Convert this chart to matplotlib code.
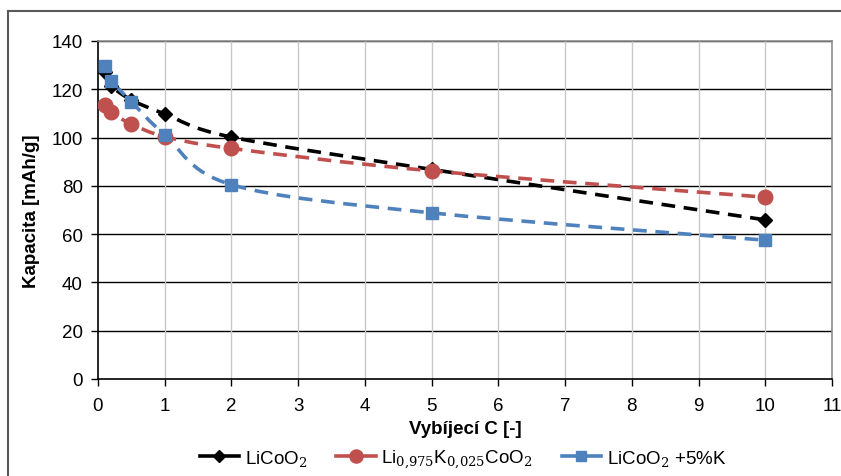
import numpy as np
import matplotlib
matplotlib.use("Agg")
import matplotlib.pyplot as plt
from matplotlib.path import Path
from matplotlib.patches import PathPatch
from matplotlib.lines import Line2D

plt.rcParams["font.family"] = ["Liberation Sans", "DejaVu Sans"]
plt.rcParams["mathtext.fontset"] = "dejavuserif"

# data
rates = [0.1, 0.2, 0.5, 1, 2, 5, 10]
licoo2 = [127, 121.5, 115.6, 109.8, 100.2, 86.8, 65.9]
li_k = [113.6, 110.4, 105.6, 100.4, 95.5, 86.2, 75.3]
licoo2_5k = [129.8, 123.6, 114.9, 101.2, 80.5, 68.8, 57.5]

labels = ["LiCoO$_2$", "Li$_{0{,}975}$K$_{0{,}025}$CoO$_2$", "LiCoO$_2$ +5%K"]
colors = ["#000000", "#c0504d", "#4f81bd"]
markers = ["D", "o", "s"]
msizes = [7, 10.5, 8]

x_ticks = list(range(0, 12))
y_ticks = list(range(0, 141, 20))


def smooth_path(x, y):
    """Excel-like smoothed line as cubic Bezier segments through the points."""
    pts = np.column_stack([np.asarray(x, float), np.asarray(y, float)])
    n = len(pts)
    verts = [pts[0]]
    codes = [Path.MOVETO]
    for i in range(n - 1):
        p0 = pts[i - 1] if i > 0 else pts[i]
        p1 = pts[i]
        p2 = pts[i + 1]
        p3 = pts[i + 2] if i + 2 < n else pts[i + 1]
        verts += [p1 + (p2 - p0) / 6.0, p2 - (p3 - p1) / 6.0, p2]
        codes += [Path.CURVE4] * 3
    return Path(verts, codes)


fig = plt.figure(figsize=(8.41, 4.77), dpi=100)
ax = fig.add_axes([0.1165, 0.2034, 0.8728, 0.7086])

series = [licoo2, li_k, licoo2_5k]
handles = []
for vals, lab, col, mk, ms in zip(series, labels, colors, markers, msizes):
    patch = PathPatch(smooth_path(rates, vals), facecolor="none", edgecolor=col,
                      linewidth=2.6, linestyle=(0, (3.8, 2.4)), zorder=3,
                      capstyle="butt")
    ax.add_patch(patch)
    ax.plot(rates, vals, linestyle="none", marker=mk, markersize=ms,
            color=col, zorder=4)
    handles.append(Line2D([], [], color=col, linewidth=2.6, marker=mk,
                          markersize=ms * 0.9, label=lab))

ax.set_xlim(0, 11)
ax.set_ylim(0, 140)
ax.set_xticks(x_ticks)
ax.set_yticks(y_ticks)
ax.tick_params(axis="both", direction="out", length=5, width=1, labelsize=13.5,
               colors="#000000", pad=6)
ax.tick_params(axis="x", pad=8)
for t in y_ticks[1:]:
    ax.axhline(t, color="#000000", linewidth=1, zorder=1)
for t in x_ticks[1:-1]:
    ax.axvline(t, color="#c8c8c8", linewidth=1, zorder=1)

ax.spines["left"].set_color("#000000")
ax.spines["bottom"].set_color("#000000")
ax.spines["top"].set_color("#8c8c8c")
ax.spines["right"].set_color("#8c8c8c")
for s in ax.spines.values():
    s.set_linewidth(1.2)

ax.set_xlabel("Vybíjecí C [-]", fontsize=13.5, fontweight="bold", labelpad=4)
ax.set_ylabel("Kapacita [mAh/g]", fontsize=13.5, fontweight="bold", labelpad=8)

fig.legend(handles=handles, loc="center", bbox_to_anchor=(463 / 841, 0.036),
           ncol=3, frameon=False, fontsize=13.5, handlelength=2.1,
           columnspacing=1.55, handletextpad=0.3)

# outer chart border (cropped on right and bottom)
x0 = 8 / 841
y0 = 1 - 12 / 477
fig.add_artist(Line2D([x0, x0], [0, y0], transform=fig.transFigure,
                      color="#595959", linewidth=1.5))
fig.add_artist(Line2D([x0, 1], [y0, y0], transform=fig.transFigure,
                      color="#595959", linewidth=1.5))

fig.savefig("out.png", dpi=100)
